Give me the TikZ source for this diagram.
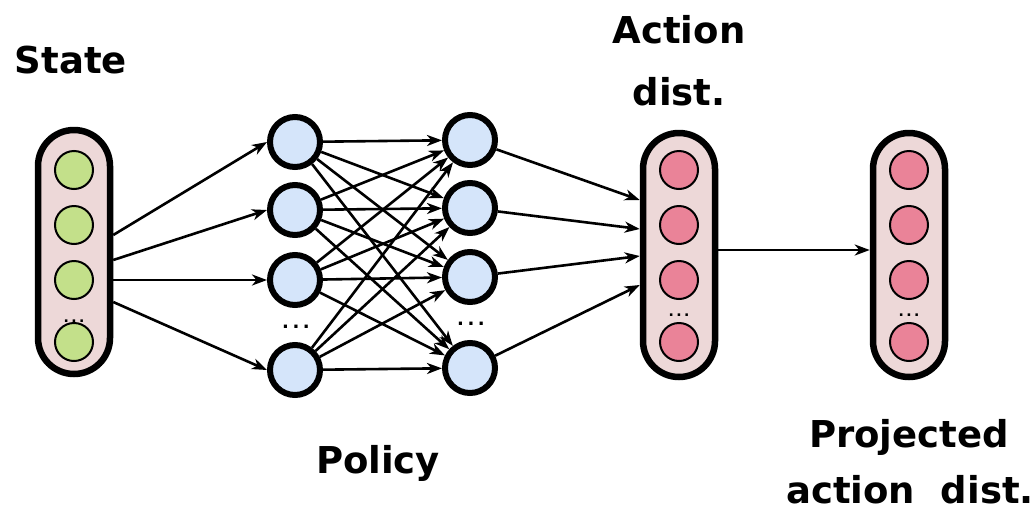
\documentclass[tikz,border=0pt]{standalone}
\usepackage{fontspec}
\setmainfont{DejaVu Sans}
\usetikzlibrary{arrows.meta,calc}
\definecolor{boxfill}{HTML}{EDD8D8}
\definecolor{statefill}{HTML}{C3E08A}
\definecolor{hidfill}{HTML}{D5E5FA}
\definecolor{actfill}{HTML}{EA8398}
\newcommand{\spreaddots}[1]{.\kern#1.\kern#1.}
\tikzset{
  layerbox/.style={draw=black, line width=6.5pt, fill=boxfill, rounded corners=36pt,
    minimum width=72pt, minimum height=244pt, inner sep=0pt},
  unit/.style={circle, draw=black, line width=2pt, minimum size=38pt, inner sep=0pt},
  stateunit/.style={unit, fill=statefill},
  actunit/.style={unit, fill=actfill},
  hidunit/.style={circle, draw=black, line width=6pt, fill=hidfill, minimum size=50pt, inner sep=0pt},
  link/.style={line width=2.6pt, -{Stealth[length=15pt, width=11pt, inset=4.5pt]}},
  title/.style={font=\fontsize{37}{40}\selectfont\bfseries, anchor=base},
  dotsmall/.style={font=\fontsize{14}{14}\selectfont\bfseries, anchor=base, inner sep=0pt},
  dotbig/.style={font=\fontsize{18}{18}\selectfont\bfseries, anchor=base, inner sep=0pt},
}
\begin{document}
\begin{tikzpicture}[x=1pt, y=-1pt]
\useasboundingbox (0,0) rectangle (1036,512);

% input layer
\node[layerbox] (S) at (74,252) {};
\foreach \i/\y in {1/170, 2/225, 3/280, 4/342}
  \node[stateunit] (s\i) at (74,\y) {};
\node[dotsmall] (sd) at (74,322) {\spreaddots{2.5pt}};

% action distribution
\node[layerbox] (A) at (679,255) {};
\foreach \i/\y in {1/170, 2/225, 3/280, 4/342}
  \node[actunit] (a\i) at (679,\y) {};
\node[dotsmall] (ad) at (679,316) {\spreaddots{2.5pt}};

% projected action distribution
\node[layerbox] (P) at (909,255) {};
\foreach \i/\y in {1/170, 2/225, 3/280, 4/342}
  \node[actunit] (p\i) at (909,\y) {};
\node[dotsmall] (pd) at (909,316) {\spreaddots{2.5pt}};

% policy network hidden layers
\foreach \i/\y in {1/142, 2/210, 3/280, 4/370}
  \node[hidunit] (h\i) at (295,\y) {};
\foreach \i/\y in {1/140, 2/208, 3/277, 4/368}
  \node[hidunit] (g\i) at (470,\y) {};
\node[dotbig] (hd) at (296,328) {\spreaddots{3.5pt}};
\node[dotbig] (gd) at (471,325) {\spreaddots{3.5pt}};

% exits from the input box
\coordinate (so1) at ($(S.east)+(0,-17)$);
\coordinate (so2) at ($(S.east)+(0,8)$);
\coordinate (so3) at ($(S.east)+(0,28)$);
\coordinate (so4) at ($(S.east)+(0,50)$);
% entries into the action box
\coordinate (ai1) at ($(A.west)+(0,-55)$);
\coordinate (ai2) at ($(A.west)+(0,-26)$);
\coordinate (ai3) at ($(A.west)+(0,1)$);
\coordinate (ai4) at ($(A.west)+(0,30)$);

\foreach \i in {1,...,4} {
  \draw[link] (so\i) -- (h\i.west);
  \draw[link] (g\i) -- (ai\i);
  \foreach \j in {1,...,4}
    \draw[link] (h\i) -- (g\j);
}

\coordinate (ao) at ($(A.east)+(0,-5)$);
\coordinate (pi) at ($(P.west)+(0,-5)$);
\draw[link] (ao) -- (pi);

% labels
\node[title] (tstate) at (71,73) {State};
\node[title] (tact1) at (679,43) {Action};
\node[title] (tact2) at (679,105) {dist.};
\node[title] (tpol) at (378,473) {Policy};
\node[title] (tproj1) at (909,447) {Projected};
\node[title] (tproj2) at (910,503) {action\ \ dist.};
\end{tikzpicture}
\end{document}
